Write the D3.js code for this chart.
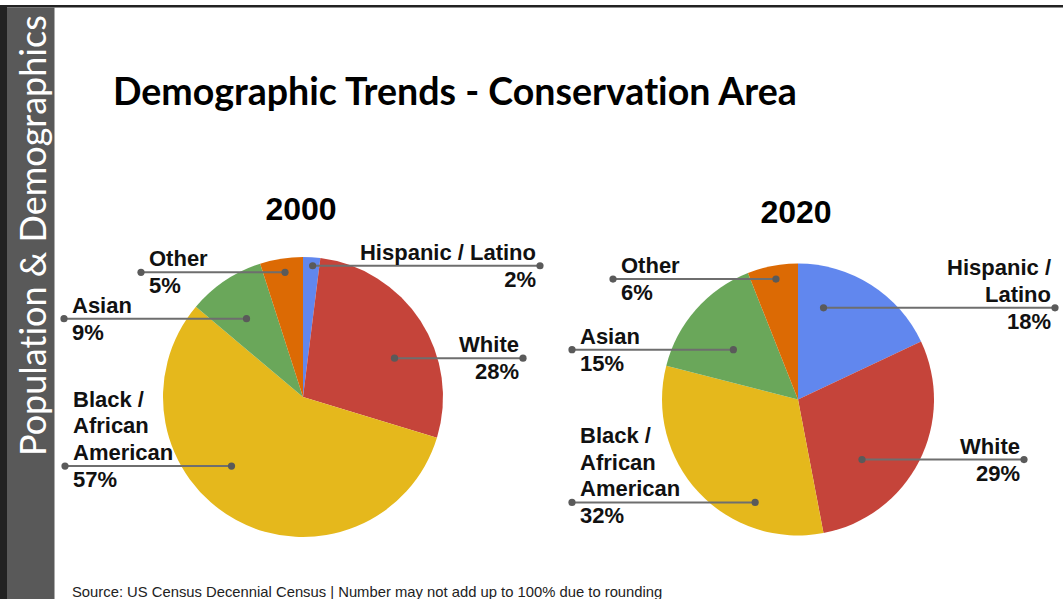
<!DOCTYPE html>
<html>
<head>
<meta charset="utf-8">
<script src="https://cdn.jsdelivr.net/npm/d3@7"></script>
<style>
  html, body { margin: 0; padding: 0; background: #fff; }
  svg { display: block; }
  text { font-variant-ligatures: none; }
</style>
</head>
<body>
<script>
// ---- Data ----
const categories = ["Hispanic / Latino", "White", "Black / African American", "Asian", "Other"];
const years = ["2000", "2020"];
const share2000 = [2, 28, 57, 9, 5];
const share2020 = [18, 29, 32, 15, 6];
const sliceColors = ["#6187ee", "#c5443a", "#e5b81c", "#6aa75a", "#dc6a04"];

const pageTitle = "Demographic Trends - Conservation Area";
const sideTitle = "Population & Demographics";
const sourceNote = "Source: US Census Decennial Census | Number may not add up to 100% due to rounding";

// ---- Label placement (t: position across slice angle, rf: fraction of radius,
//      reach: horizontal end of the leader line from the pie centre, wrap: max text width) ----
const labelLayout2000 = [
  { t: 0.59, rf: 0.94, reach: 237, wrap: 220 },
  { t: 0.60, rf: 0.71, reach: 220, wrap: 120 },
  { t: 0.586, rf: 0.71, reach: -238, wrap: 110 },
  { t: 0.44, rf: 0.69, reach: -239, wrap: 110 },
  { t: 0.54, rf: 0.90, reach: -162, wrap: 110 }
];
const labelLayout2020 = [
  { t: 0.24, rf: 0.70, reach: 257, wrap: 110 },
  { t: 0.655, rf: 0.645, reach: 226, wrap: 120 },
  { t: 0.29, rf: 0.82, reach: -226, wrap: 110 },
  { t: 0.43, rf: 0.60, reach: -226, wrap: 110 },
  { t: 0.52, rf: 0.90, reach: -185, wrap: 110 }
];

const W = 1063, H = 599;
const svg = d3.select("body").append("svg")
  .attr("width", W).attr("height", H)
  .attr("viewBox", `0 0 ${W} ${H}`);

svg.append("rect").attr("width", W).attr("height", H).attr("fill", "#fff");

// ---- Slide frame and side band ----
svg.append("rect").attr("x", 0).attr("y", 5).attr("width", W).attr("height", 2.5).attr("fill", "#222");
svg.append("rect").attr("x", 0).attr("y", 5).attr("width", 7).attr("height", H - 5).attr("fill", "#222");
svg.append("rect").attr("x", 7).attr("y", 7.5).attr("width", 47.5).attr("height", H - 7.5).attr("fill", "#595959");

function fitWidth(sel, target) {
  const w = sel.node().getComputedTextLength();
  const fs = parseFloat(sel.attr("font-size"));
  sel.attr("font-size", fs * target / w);
}

const side = svg.append("text")
  .attr("transform", "translate(46,456) rotate(-90)")
  .attr("font-family", "Lato, 'Open Sans', sans-serif")
  .attr("font-size", 30)
  .attr("fill", "#fff")
  .text(sideTitle);
fitWidth(side, 441);

// ---- Titles ----
const title = svg.append("text")
  .attr("x", 113).attr("y", 105)
  .attr("font-family", "Lato, sans-serif")
  .attr("font-weight", 700)
  .attr("font-size", 36)
  .attr("fill", "#000")
  .text(pageTitle);
fitWidth(title, 684);

const source = svg.append("text")
  .attr("x", 72).attr("y", 597)
  .attr("font-family", "'Liberation Sans', Arial, sans-serif")
  .attr("font-size", 13)
  .attr("fill", "#222")
  .text(sourceNote);
fitWidth(source, 591);

// ---- Pies ----
const panels = [
  { year: years[0], values: share2000, cx: 303, cy: 397, r: 140, labels: labelLayout2000 },
  { year: years[1], values: share2020, cx: 798, cy: 399.5, r: 136, labels: labelLayout2020 }
];

const labelFont = "'Liberation Sans', Arial, sans-serif";
const labelSize = 22;
const lineGap = 26.7;

// word wrap by measured width
const measurer = svg.append("text")
  .attr("font-family", labelFont).attr("font-weight", 700).attr("font-size", labelSize)
  .attr("visibility", "hidden");
function wrap(text, maxW) {
  const words = text.split(" ");
  const lines = [];
  let cur = "";
  words.forEach(w => {
    const trial = cur ? cur + " " + w : w;
    measurer.text(trial);
    if (cur && measurer.node().getComputedTextLength() > maxW) {
      lines.push(cur);
      cur = w;
    } else {
      cur = trial;
    }
  });
  if (cur) lines.push(cur);
  return lines;
}

const pie = d3.pie().sort(null).value(d => d);

panels.forEach(p => {
  const g = svg.append("g");
  const arcs = pie(p.values);
  const arc = d3.arc().innerRadius(0).outerRadius(p.r);

  g.append("text")
    .attr("x", p.cx - 2).attr("y", p.cy - 177)
    .attr("text-anchor", "middle")
    .attr("font-family", labelFont).attr("font-weight", 700)
    .attr("font-size", 32).attr("fill", "#000")
    .text(p.year);

  g.append("g").attr("transform", `translate(${p.cx},${p.cy})`)
    .selectAll("path").data(arcs).join("path")
    .attr("d", arc)
    .attr("fill", (d, i) => sliceColors[i]);

  arcs.forEach((s, i) => {
    const L = p.labels[i];
    const a = s.startAngle + L.t * (s.endAngle - s.startAngle);
    const px = p.cx + Math.sin(a) * L.rf * p.r;
    const py = p.cy - Math.cos(a) * L.rf * p.r;
    const ox = p.cx + L.reach;
    const right = L.reach > 0;

    g.append("line")
      .attr("x1", px).attr("y1", py).attr("x2", ox).attr("y2", py)
      .attr("stroke", "#6e6e6e").attr("stroke-width", 2);
    g.append("circle").attr("cx", px).attr("cy", py).attr("r", 3.6).attr("fill", "#5a5a5a");
    g.append("circle").attr("cx", ox).attr("cy", py).attr("r", 3.6).attr("fill", "#5a5a5a");

    const tx = right ? ox - 4 : ox + 8;
    const anchor = right ? "end" : "start";
    const lines = wrap(categories[i], L.wrap);
    const n = lines.length;
    lines.forEach((ln, k) => {
      g.append("text")
        .attr("x", tx).attr("y", py - 6 - (n - 1 - k) * lineGap)
        .attr("text-anchor", anchor)
        .attr("font-family", labelFont).attr("font-weight", 700)
        .attr("font-size", labelSize).attr("fill", "#111")
        .text(ln);
    });
    g.append("text")
      .attr("x", tx).attr("y", py + 21)
      .attr("text-anchor", anchor)
      .attr("font-family", labelFont).attr("font-weight", 700)
      .attr("font-size", labelSize).attr("fill", "#111")
      .text(s.data + "%");
  });
});
measurer.remove();
</script>
</body>
</html>
